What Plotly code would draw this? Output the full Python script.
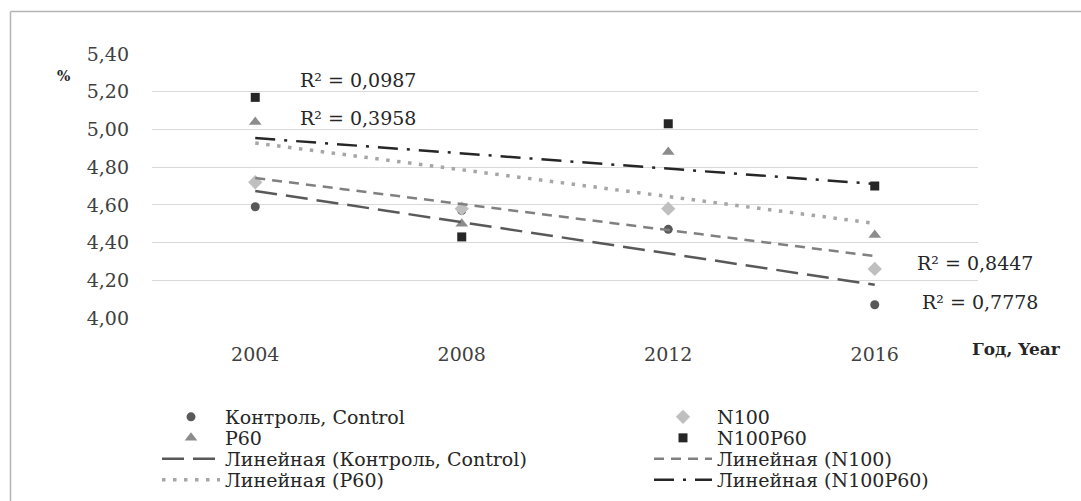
import numpy as np
import plotly.graph_objects as go

# ---- data -------------------------------------------------------------
years = [2004, 2008, 2012, 2016]
control = [4.59, 4.57, 4.47, 4.07]
n100 = [4.72, 4.58, 4.58, 4.26]
p60 = [5.04, 4.50, 4.88, 4.44]
n100p60 = [5.17, 4.43, 5.03, 4.70]

series_names = ["Контроль, Control", "N100", "P60", "N100P60"]
trend_names = ["Линейная (Контроль, Control)", "Линейная (N100)",
               "Линейная (P60)", "Линейная (N100P60)"]
r2_labels = ["R² = 0,0987", "R² = 0,3958", "R² = 0,8447", "R² = 0,7778"]
y_ticks = [4.00, 4.20, 4.40, 4.60, 4.80, 5.00, 5.20, 5.40]

# ---- geometry ---------------------------------------------------------
W, H = 1081, 501
ML, MR, MT, MB = 152, 103, 54, 183
PW, PH = W - ML - MR, H - MT - MB


def px(x):
    return (x - ML) / PW


def py(y):
    return (H - MB - y) / PH


FONT = "DejaVu Serif"
TXT = "#404040"
FS = 19

fig = go.Figure()

marker_styles = {
    "Контроль, Control": dict(symbol="circle", color="#595959", size=9),
    "N100": dict(symbol="diamond", color="#bfbfbf", size=11),
    "P60": dict(symbol="triangle-up", color="#8c8c8c", size=11),
    "N100P60": dict(symbol="square", color="#262626", size=9),
}
trend_styles = {
    "Контроль, Control": dict(color="#595959", width=2.5, dash="22px,9px"),
    "N100": dict(color="#808080", width=2.5, dash="10px,7px"),
    "P60": dict(color="#a6a6a6", width=3.5, dash="3.5px,7.5px"),
    "N100P60": dict(color="#262626", width=2.5, dash="20px,9px,3px,9px"),
}
values = dict(zip(series_names, [control, n100, p60, n100p60]))

# legend layout: two columns (left: Control/P60, right: N100/N100P60),
# four rows (markers, then linear trends) -> one small legend per cell
col_x = {"Контроль, Control": 0, "P60": 0, "N100": 1, "N100P60": 1}
row_of_marker = {"Контроль, Control": 0, "N100": 0, "P60": 1, "N100P60": 1}
col_left = [157, 649]
row_mid = [417, 438, 459, 480]

legend_layouts = {}
cell = [0]


def new_legend(col, row):
    cell[0] += 1
    key = "legend" if cell[0] == 1 else f"legend{cell[0]}"
    legend_layouts[key] = dict(
        x=px(col_left[col]), y=py(row_mid[row]), xanchor="left", yanchor="middle",
        itemwidth=58, bgcolor="rgba(0,0,0,0)", borderwidth=0,
        font=dict(family=FONT, size=FS, color="#262626"),
    )
    return key


for name in series_names:
    fig.add_trace(go.Scatter(
        x=years, y=values[name], mode="markers", name=name,
        marker=dict(line=dict(width=0), **marker_styles[name]),
        legend=new_legend(col_x[name], row_of_marker[name]),
    ))

xi = np.arange(len(years))
for name, tname in zip(series_names, trend_names):
    slope, icpt = np.polyfit(xi, values[name], 1)
    fit = icpt + slope * xi
    fig.add_trace(go.Scatter(
        x=years, y=fit, mode="lines", name=tname,
        line=trend_styles[name],
        legend=new_legend(col_x[name], row_of_marker[name] + 2),
    ))

# R² labels next to their trend lines
r2_pos = [(2004.82, 5.262), (2004.82, 5.06), (2016.78, 4.29), (2016.88, 4.085)]
for lab, (x, y) in zip(r2_labels, r2_pos):
    fig.add_annotation(x=x, y=y, text=lab, showarrow=False, xanchor="left",
                       yanchor="middle", font=dict(family=FONT, size=FS, color="#262626"))

# axis titles
fig.add_annotation(x=px(55), y=py(66), xref="paper", yref="paper", text="<b>%</b>",
                   showarrow=False, font=dict(family=FONT, size=14, color="#262626"))
fig.add_annotation(x=px(970), y=py(349), xref="paper", yref="paper", text="<b>Год, Year</b>",
                   showarrow=False, xanchor="left", yanchor="middle",
                   font=dict(family=FONT, size=17, color="#262626"))

# chart frame (left and top edges)
fig.add_shape(type="line", xref="paper", yref="paper", x0=px(10.5), x1=px(W + 5),
              y0=py(11.5), y1=py(11.5), line=dict(color="#b4b4b4", width=1.5))
fig.add_shape(type="line", xref="paper", yref="paper", x0=px(10.5), x1=px(10.5),
              y0=py(11.5), y1=py(H + 5), line=dict(color="#b4b4b4", width=1.5))

fig.update_layout(
    width=W, height=H,
    margin=dict(l=ML, r=MR, t=MT, b=MB, pad=0, autoexpand=False),
    paper_bgcolor="white", plot_bgcolor="white",
    separators=", ",
    font=dict(family=FONT, size=FS, color=TXT),
    xaxis=dict(range=[2002, 2018], tickvals=years, ticktext=[str(y) for y in years],
               showgrid=False, zeroline=False, showline=False, ticks="",
               ticklabelstandoff=23, tickfont=dict(family=FONT, size=FS, color=TXT)),
    yaxis=dict(range=[4.0, 5.4], tickvals=y_ticks, tickformat=".2f",
               showgrid=True, gridcolor="#d9d9d9", gridwidth=1.2,
               zeroline=False, showline=False, ticks="",
               ticklabelstandoff=22, tickfont=dict(family=FONT, size=FS, color=TXT)),
    showlegend=True,
    **legend_layouts,
)

fig.write_html("out.html")
